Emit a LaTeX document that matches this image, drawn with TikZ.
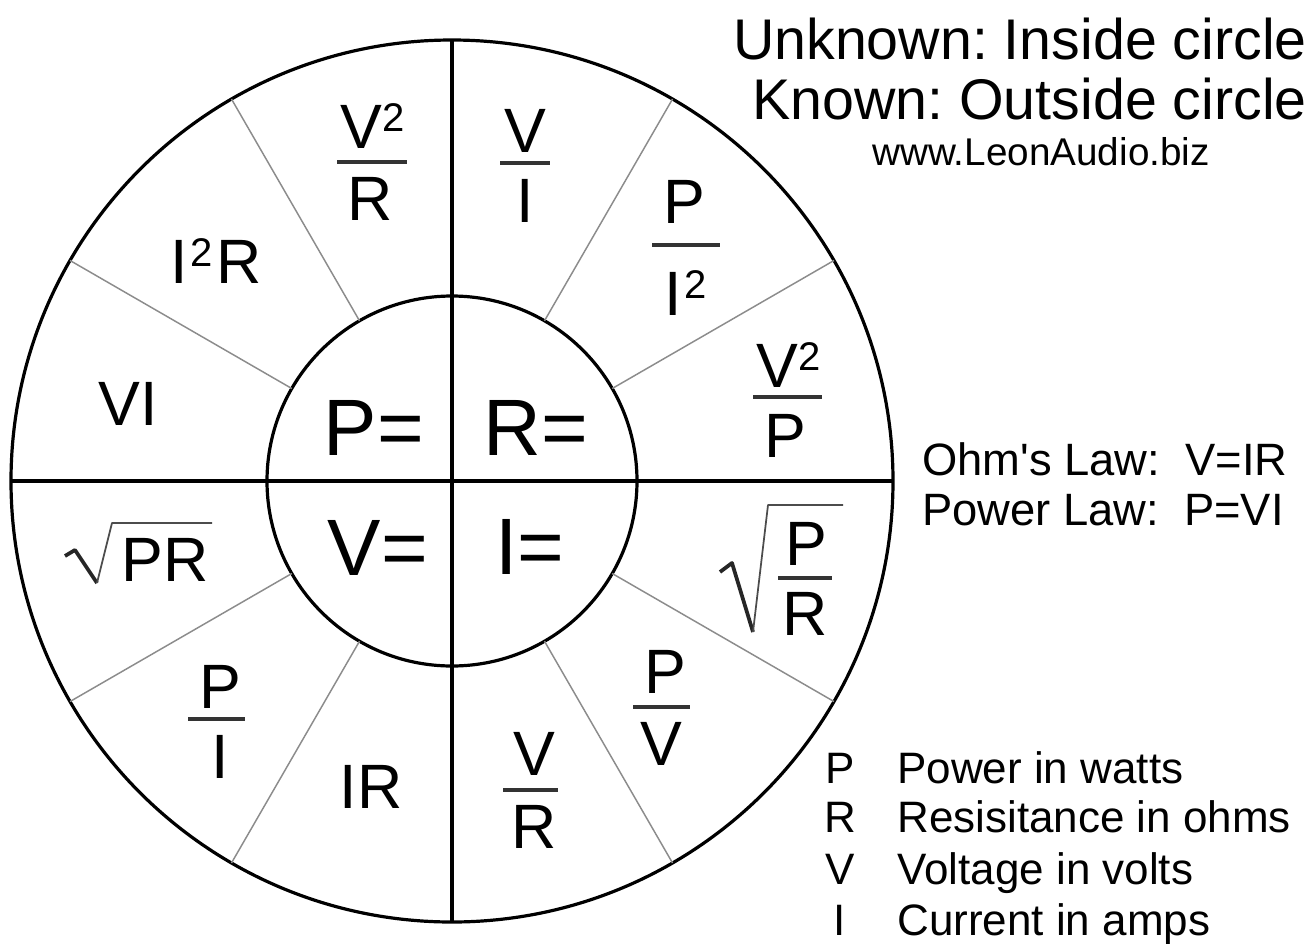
\documentclass[tikz,border=0pt]{standalone}
\usepackage{fontspec}
\setmainfont{Liberation Sans}
\frenchspacing
\newcommand\sqtwo{\raisebox{12.5pt}{\fontsize{30}{30}\selectfont 2}}
\tikzset{
  ring/.style={circle, draw=black, line width=2.4pt, inner sep=0pt, outer sep=0pt},
  axisline/.style={draw=black, line width=2.4pt},
  sector/.style={draw=black!45, line width=1.1pt},
  fbar/.style={draw=black!80, line width=2.6pt},
  radthick/.style={draw=black!85, line width=2.8pt, line join=round},
  radthin/.style={draw=black!70, line width=1.3pt, line join=round},
  unk/.style={font=\fontsize{60}{60}\selectfont, inner sep=0pt, anchor=base},
  lab/.style={font=\fontsize{47}{47}\selectfont, inner sep=0pt, anchor=base},
  head/.style={font=\fontsize{43}{43}\selectfont, inner sep=0pt, anchor=base east},
  web/.style={font=\fontsize{29}{29}\selectfont, inner sep=0pt, anchor=base},
  law/.style={font=\fontsize{34}{34}\selectfont, inner sep=0pt, anchor=base west},
  leg/.style={font=\fontsize{33}{33}\selectfont, inner sep=0pt, anchor=base},
  legtxt/.style={font=\fontsize{33}{33}\selectfont, inner sep=0pt, anchor=base west}
}
\begin{document}
\begin{tikzpicture}[x=0.75pt, y=-0.75pt]
\useasboundingbox[fill=white] (0,0) rectangle (1313,943);
\coordinate (c) at (452,481);
% circles
\node[ring, minimum size=661.5pt] (outer) at (c) {};
\node[ring, minimum size=277.5pt] (inner) at (c) {};
% sector dividers
\foreach \a in {30,60,120,150,210,240,300,330}{
  \draw[sector] (inner.\a) -- (outer.\a);
}
% axes
\draw[axisline] (outer.north) -- (outer.south);
\draw[axisline] (outer.west) -- (outer.east);
% inner unknowns
\node[unk] (punk) at (374,455) {P=};
\node[unk] (runk) at (536,455) {R=};
\node[unk] (vunk) at (378,575) {V=};
\node[unk] (iunk) at (530,574) {I=};
% P formulas
\node[lab] (p1n) at (373,148) {V\sqtwo};
\draw[fbar] (337,162) -- (407,162);
\node[lab] (p1d) at (370,220) {R};
\node[lab] (p2) at (216,283) {I\kern2pt\sqtwo\kern3pt R};
\node[lab] (p3) at (128,425) {VI};
% R formulas
\node[lab] (r1n) at (525,152) {V};
\draw[fbar] (500,163) -- (550,163);
\node[lab] (r1d) at (525,222) {I};
\node[lab] (r2n) at (684,223) {P};
\draw[fbar] (652,245) -- (720,245);
\node[lab] (r2d) at (686,315) {I\kern2pt\sqtwo};
\node[lab] (r3n) at (789,387) {V\sqtwo};
\draw[fbar] (753,397) -- (822,397);
\node[lab] (r3d) at (785,457) {P};
% V formulas
\draw[radthick] (65,556) -- (75,550) -- (97,583);
\draw[radthin] (97,583) -- (112,523) -- (212,523);
\node[lab] (v1) at (165,581) {PR};
\node[lab] (v2n) at (220,708) {P};
\draw[fbar] (188,719) -- (245,719);
\node[lab] (v2d) at (220,778) {I};
\node[lab] (v3) at (371,808) {IR};
% I formulas
\draw[radthick] (720,572) -- (732,563) -- (753,632);
\draw[radthin] (753,632) -- (768,505) -- (843,505);
\node[lab] (i1n) at (806,565) {P};
\draw[fbar] (778,578) -- (832,578);
\node[lab] (i1d) at (805,635) {R};
\node[lab] (i2n) at (665,693) {P};
\draw[fbar] (633,707) -- (690,707);
\node[lab] (i2d) at (661,765) {V};
\node[lab] (i3n) at (534,775) {V};
\draw[fbar] (503,790) -- (558,790);
\node[lab] (i3d) at (534,848) {R};
% header
\node[head] (h1) at (1307,59) {Unknown: Inside circle};
\node[head] (h2) at (1307,119) {Known: Outside circle};
\node[web] (h3) at (1041,165) {www.LeonAudio.biz};
% laws
\node[law] (ohm) at (922,475) {Ohm\textquotesingle s Law:\ \ V=IR};
\node[law] (pow) at (922,525) {Power Law:\ \ P=VI};
% legend
\node[leg] (lp) at (840,783) {P};
\node[legtxt] (tp) at (897,783) {Power in watts};
\node[leg] (lr) at (840,832) {R};
\node[legtxt] (tr) at (897,832) {Resisitance in ohms};
\node[leg] (lv) at (840,884) {V};
\node[legtxt] (tv) at (897,884) {Voltage in volts};
\node[leg] (li) at (840,935) {I};
\node[legtxt] (ti) at (897,935) {Current in amps};
\end{tikzpicture}
\end{document}
